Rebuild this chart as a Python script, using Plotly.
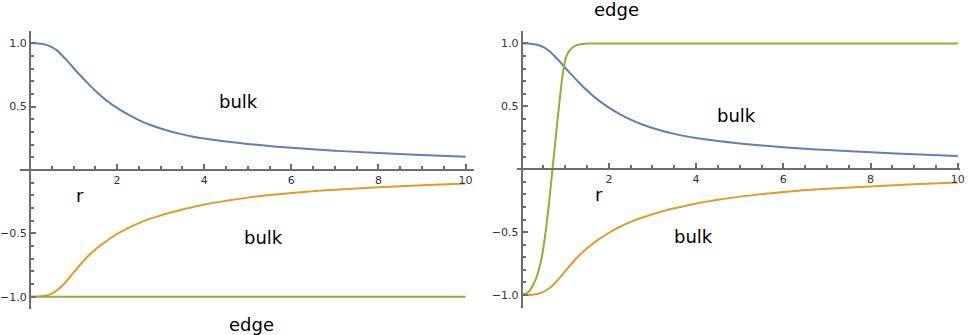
import plotly.graph_objects as go

# values (r on the horizontal axis)
r_vals = [0, 0.125, 0.25, 0.375, 0.5, 0.625, 0.75, 0.875, 1.0, 1.25, 1.5, 1.75, 2.0, 2.25, 2.5, 2.75,
          3.0, 3.25, 3.5, 3.75, 4.0, 4.5, 5.0, 5.5, 6.0, 7.0, 8.0, 9.0, 10.0]
blue_vals = [1.0, 0.9995, 0.996, 0.987, 0.97, 0.942, 0.90, 0.855, 0.805, 0.712, 0.625, 0.551, 0.49, 0.438,
             0.394, 0.357, 0.327, 0.302, 0.281, 0.263, 0.248, 0.224, 0.205, 0.189, 0.175, 0.152, 0.134,
             0.119, 0.105]
orange_vals = [-1.0, -0.9998, -0.997, -0.99, -0.975, -0.948, -0.91, -0.862, -0.81, -0.71, -0.628, -0.562,
               -0.505, -0.458, -0.419, -0.386, -0.358, -0.333, -0.311, -0.292, -0.272, -0.243, -0.218,
               -0.198, -0.181, -0.156, -0.137, -0.12, -0.106]

# green, left panel: flat edge
green_left_r = [0, 10]
green_left_vals = [-1.0, -1.0]

# green, right panel: steep edge
green_right_r = [0, 0.14, 0.24, 0.345, 0.45, 0.565, 0.65, 0.707, 0.78, 0.86, 0.95, 1.03, 1.12, 1.2, 1.3,
                 1.45, 1.65, 10]
green_right_vals = [-1.0, -0.98, -0.934, -0.855, -0.722, -0.457, -0.193, 0.0, 0.245, 0.51, 0.775, 0.9,
                    0.952, 0.975, 0.99, 0.998, 1.0, 1.0]

x_ticks = [2, 4, 6, 8, 10]
x_ticktext = ['2', '4', '6', '8', '10']
y_ticks = [-1.0, -0.5, 0.5, 1.0]
y_ticktext = ['\u22121.0', '\u22120.5', '0.5', '1.0']

# (text, x, y, axis suffix, y given in paper units?)
labels = [
    ('bulk', 4.79, 0.537, '', False),
    ('bulk', 5.37, -0.529, '', False),
    ('edge', 5.09, 0.03, '', True),
    ('r', 1.14, -0.2, '', False),
    ('edge', 2.18, 0.973, '2', True),
    ('bulk', 4.92, 0.423, '2', False),
    ('bulk', 3.93, -0.531, '2', False),
    ('r', 1.77, -0.2, '2', False),
]

BLUE = '#5E81B5'
ORANGE = '#E19C24'
GREEN = '#8FB032'
AXIS = '#6e6e6e'


def curve(x, y, color, ax):
    return go.Scatter(x=x, y=y, mode='lines', line=dict(color=color, width=2, shape='spline', smoothing=1.0),
                      xaxis='x' + ax, yaxis='y' + ax, showlegend=False, hoverinfo='skip')


data = [
    curve(r_vals, blue_vals, BLUE, ''),
    curve(r_vals, orange_vals, ORANGE, ''),
    curve(green_left_r, green_left_vals, GREEN, ''),
    curve(r_vals, blue_vals, BLUE, '2'),
    curve(r_vals, orange_vals, ORANGE, '2'),
    curve(green_right_r, green_right_vals, GREEN, '2'),
]


def x_axis(domain, rng, pos):
    return dict(domain=domain, range=rng, anchor='free', position=pos,
                showline=True, linecolor=AXIS, linewidth=2, zeroline=False, showgrid=False,
                tickmode='array', tickvals=x_ticks, ticktext=x_ticktext,
                ticks='inside', ticklen=5, tickwidth=1.5, tickcolor=AXIS,
                tickfont=dict(family='DejaVu Sans', size=11, color='#333333'),
                minor=dict(tickmode='linear', tick0=0, dtick=0.5, ticks='inside', ticklen=3,
                           tickwidth=1.5, tickcolor=AXIS, showgrid=False))


def y_axis(domain, pos):
    return dict(domain=domain, range=[-1.1, 1.1], anchor='free', position=pos,
                showline=True, linecolor=AXIS, linewidth=2, zeroline=False, showgrid=False,
                tickmode='array', tickvals=y_ticks, ticktext=y_ticktext,
                ticks='inside', ticklen=5, tickwidth=1.5, tickcolor=AXIS,
                tickfont=dict(family='DejaVu Sans', size=11, color='#333333'),
                minor=dict(tickmode='linear', tick0=0, dtick=0.1, ticks='inside', ticklen=3,
                           tickwidth=1.5, tickcolor=AXIS, showgrid=False))


annotations = []
for txt, x, y, ax, paper_y in labels:
    annotations.append(dict(text=txt, x=x, y=y, xref='x' + ax, yref='paper' if paper_y else 'y' + ax,
                            xanchor='center', yanchor='middle', showarrow=False,
                            font=dict(family='DejaVu Sans', size=18, color='#000000')))

layout = go.Layout(
    width=972, height=335,
    margin=dict(l=0, r=0, t=0, b=0),
    paper_bgcolor='white', plot_bgcolor='white',
    xaxis=x_axis([0.0206, 0.4905], [-0.23, 10.2], 0.4925),
    yaxis=y_axis([0.0764, 0.9087], 0.0309),
    xaxis2=x_axis([0.5343, 0.9923], [-0.114, 10.04], 0.4949),
    yaxis2=y_axis([0.0818, 0.908], 0.5394),
    annotations=annotations,
)

fig = go.Figure(data=data, layout=layout)
# page without the default body margin, so the figure sits at the window's corner
fig.write_html("out.html", config={'displayModeBar': False},
               post_script="document.body.style.margin='0';")
